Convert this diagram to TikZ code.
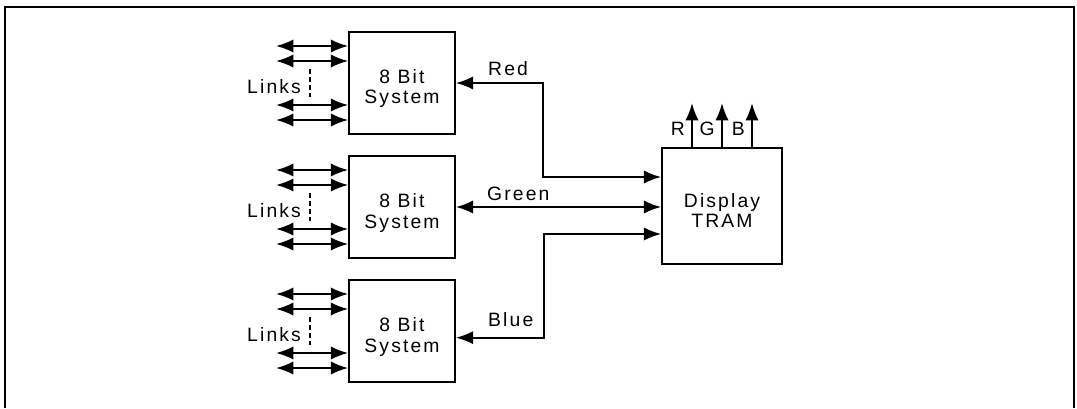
\documentclass[tikz,border=0pt]{standalone}
\usepackage{fontspec}
\setmainfont[LetterSpace=11]{Liberation Sans}
\usetikzlibrary{arrows.meta,calc}

\begin{document}
\begin{tikzpicture}[x=0.75pt, y=-0.75pt, >={Latex[length=13pt,width=10pt]}, line width=1.35pt, node distance=93pt,
  sysbox/.style={draw, align=center, minimum width=79.5pt, minimum height=77pt, inner sep=0pt, font=\fontsize{14.5}{15.5}\selectfont},
  lbl/.style={font=\fontsize{14.5}{15.5}\selectfont, inner sep=1pt}]
\useasboundingbox (0,0) rectangle (1077,408);
\draw[line width=1.1pt] (5,408) -- (5,7) -- (1074,7) -- (1074,408);
% the three systems
\node[sysbox] (b1) at (402,83) {\rule{0pt}{19pt}8 Bit\\System};
\node[sysbox, below of=b1] (b2) {\rule{0pt}{19pt}8 Bit\\System};
\node[sysbox, below of=b2] (b3) {\rule{0pt}{19pt}8 Bit\\System};
\node[sysbox, minimum width=90pt, minimum height=87pt] (tram) at (722,206) {\rule{0pt}{17pt}Display\\TRAM};
% links on the left
\foreach \s in {b1,b2,b3} {
  \foreach \dy [count=\k] in {-37,-22,22,37} {
    \coordinate (\s-l\k) at ($(\s.west)+(-72,\dy)$);
    \draw[<->] (\s-l\k) -- (\s-l\k -| \s.west);
  }
  \draw[dash pattern=on 4pt off 2pt, line width=1pt] ($(\s.west)+(-38,-14)$) -- ($(\s.west)+(-38,14)$);
  \node[lbl, anchor=east] (\s-links) at ($(\s.west)+(-45,4)$) {Links};
}
% colour channels
\coordinate (jr) at (543,177);
\coordinate (jb) at (544,234);
\draw[<->] (b1.east) -| (jr) -- (jr -| tram.west);
\draw[<->] (b2.east) -- (b2.east -| tram.west);
\draw[<->] ([yshift=-5pt]b3.east) -| (jb) -- (jb -| tram.west);
\node[lbl, anchor=south west] (red) at (486,78) {Red};
\node[lbl, anchor=south west] (green) at (485,203) {Green};
\node[lbl, anchor=south west] (blue) at (486,329) {Blue};
% RGB outputs
\foreach \c/\dx in {R/-30,G/0,B/30} {
  \coordinate (base\c) at ($(tram.north)+(\dx,0)$);
  \coordinate (tip\c) at ($(base\c)+(0,-44)$);
  \draw[->] (base\c) -- (tip\c);
  \node[lbl, anchor=south east] (out\c) at ($(base\c)+(-5,-9)$) {\c};
}
\end{tikzpicture}
\end{document}
